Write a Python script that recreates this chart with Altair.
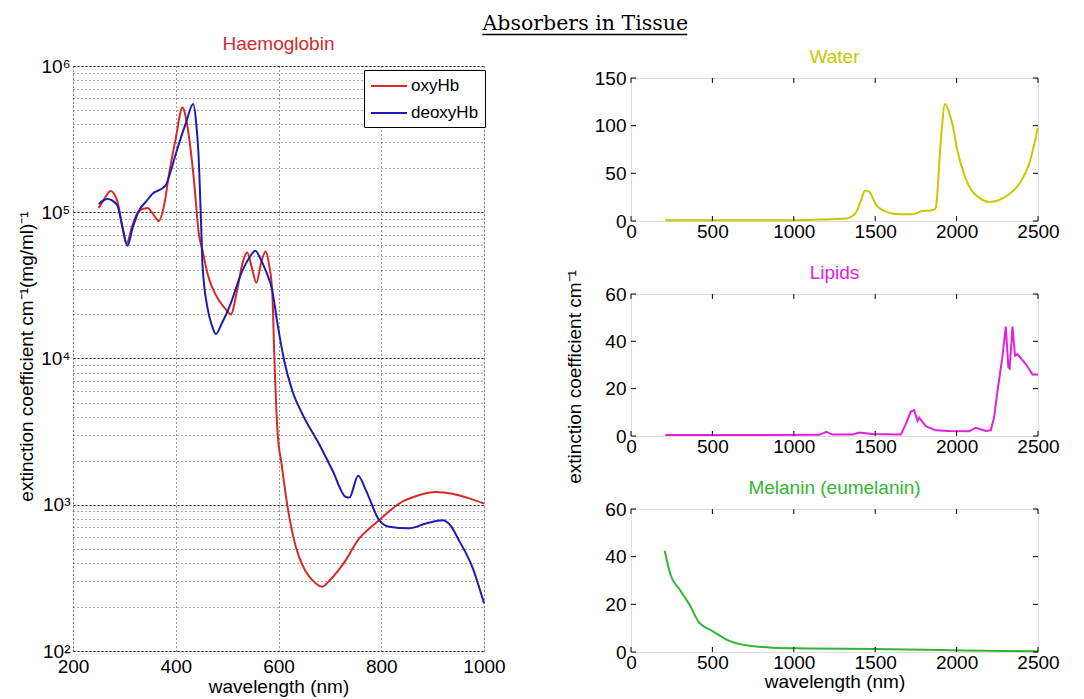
import altair as alt
import pandas as pd

FONT = "Liberation Sans"
SERIF = "DejaVu Serif"
RED = "#d62a2a"
BLUE = "#1c1cb4"
YEL = "#c8c800"
MAG = "#e022e0"
GRN = "#33b533"
FS = 19

main_title = "Absorbers in Tissue"
hb_title = "Haemoglobin"
hb_names = ["oxyHb", "deoxyHb"]
hb_ylabel = "extinction coefficient cm\u207b\u00b9(mg/ml)\u207b\u00b9"
x_title = "wavelength (nm)"
right_ylabel = "extinction coefficient cm\u207b\u00b9"

# Haemoglobin
oxy_wl = [250, 262, 273, 286, 296, 304, 315, 328, 345, 356, 367, 378, 387, 400, 413, 422,
          435, 445, 452, 462, 484, 496, 507, 520, 530, 539, 548, 557, 566, 575, 582, 588,
          592, 598, 606, 617, 628, 640, 653, 666, 685, 700, 715, 731, 757, 775, 796, 815,
          835, 873, 906, 938, 970, 1000]
oxy_val = [1.07e5, 1.25e5, 1.40e5, 1.20e5, 8.0e4, 6.1e4, 8.0e4, 1.02e5, 1.07e5, 9.7e4,
           8.7e4, 1.15e5, 1.83e5, 3.2e5, 5.2e5, 4.0e5, 1.72e5, 7.1e4, 5.5e4, 3.8e4, 2.5e4,
           2.2e4, 2.0e4, 3.0e4, 4.5e4, 5.3e4, 4.2e4, 3.3e4, 4.5e4, 5.4e4, 4.3e4, 2.8e4,
           1.0e4, 3.2e3, 1.9e3, 1.0e3, 620, 440, 350, 305, 275, 305, 350, 418, 588, 680,
           784, 900, 1020, 1160, 1220, 1190, 1110, 1020]
deoxy_wl = [250, 267, 286, 296, 306, 316, 328, 342, 354, 380, 390, 400, 419, 434, 440, 444,
            450, 452, 462, 470, 478, 490, 504, 530, 545, 555, 565, 575, 588, 598, 611, 627,
            646, 679, 705, 731, 738, 755, 770, 796, 815, 854, 887, 919, 935, 951, 977, 1000]
deoxy_val = [1.14e5, 1.23e5, 1.12e5, 8.0e4, 5.9e4, 7.8e4, 1.02e5, 1.18e5, 1.33e5, 1.52e5,
             1.9e5, 2.5e5, 4.0e5, 5.5e5, 4.0e5, 2.6e5, 7.1e4, 4.4e4, 2.2e4, 1.7e4, 1.47e4,
             1.75e4, 2.24e4, 4.0e4, 5.0e4, 5.46e4, 4.8e4, 4.0e4, 2.9e4, 1.73e4, 9.7e3, 6.0e3,
             4.2e3, 2.6e3, 1.72e3, 1.13e3, 1.12e3, 1.58e3, 1.26e3, 784, 708, 690, 745, 784,
             720, 573, 377, 212]

# Water
water_wl = [211, 600, 1000, 1156, 1320, 1381, 1412, 1438, 1463, 1504, 1565, 1647, 1729, 1790,
            1852, 1872, 1903, 1929, 1954, 1974, 2005, 2046, 2087, 2138, 2200, 2261, 2322,
            2384, 2445, 2500]
water_val = [0.8, 0.8, 0.9, 1.5, 2.5, 8.8, 21, 32, 30.5, 17.5, 9.8, 7, 7, 10.5, 11.2, 14, 84,
             122.7, 114, 101.6, 73.6, 49, 33.3, 24.5, 20, 22, 28, 38.6, 59.6, 98]
# Lipids
lip_wl = [211, 1156, 1201, 1238, 1360, 1401, 1483, 1657, 1688, 1719, 1739, 1760, 1770, 1811,
          1872, 1954, 2077, 2118, 2179, 2210, 2230, 2251, 2281, 2302, 2318, 2326, 2343, 2359,
          2373, 2425, 2466, 2500]
lip_val = [0.4, 0.5, 1.8, 0.6, 0.6, 1.5, 0.8, 0.6, 5, 10.3, 10.9, 6.4, 7.8, 4.2, 2.4, 2.1, 2.0,
           3.5, 2.1, 2.4, 7.8, 19, 33.2, 46.2, 29, 28.5, 46.2, 33.9, 34.6, 30.4, 26, 26]
# Melanin
mel_wl = [207, 245, 297, 358, 419, 501, 583, 706, 870, 1074, 1483, 1893, 2302, 2500]
mel_val = [42.5, 32, 26.4, 20, 12.3, 8.8, 5.3, 2.8, 1.8, 1.5, 1.26, 0.84, 0.42, 0.3]

hb_x_ticks = [200, 400, 600, 800, 1000]
hb_y_ticks = [m * 10 ** k for k in range(2, 6) for m in range(1, 10)] + [10 ** 6]
r_x_ticks = [0, 500, 1000, 1500, 2000, 2500]
water_y_ticks = [0, 50, 100, 150]
lip_y_ticks = [0, 20, 40, 60]
mel_y_ticks = [0, 20, 40, 60]

LW, LH = 411, 585
RW = 407

hb_df = pd.concat([
    pd.DataFrame({"wl": oxy_wl, "val": oxy_val, "species": hb_names[0]}),
    pd.DataFrame({"wl": deoxy_wl, "val": deoxy_val, "species": hb_names[1]}),
])

decade = "abs(log(datum.value)/LN10 - round(log(datum.value)/LN10)) < 0.001"
sup = "['\u2070','\u00b9','\u00b2','\u00b3','\u2074','\u2075','\u2076']"

axis_common = dict(labelFont=FONT, titleFont=FONT, labelFontSize=FS, titleFontSize=FS,
                   labelColor="black", titleColor="black", ticks=False, domain=False,
                   labelFlush=False, labelOverlap=False, titleFontWeight="normal")

hb_lines = alt.Chart(hb_df).mark_line(strokeWidth=2, interpolate="monotone").encode(
    x=alt.X("wl:Q", scale=alt.Scale(domain=[200, 1000], nice=False, zero=False),
            axis=alt.Axis(values=hb_x_ticks, title=x_title, grid=True, gridDash=[1, 3],
                          gridColor="#333", labelPadding=6, titlePadding=1, format="d",
                          **axis_common)),
    y=alt.Y("val:Q", scale=alt.Scale(type="log", domain=[100, 1e6], nice=False),
            axis=alt.Axis(values=hb_y_ticks, title=hb_ylabel, grid=True,
                          labelExpr=f"({decade}) ? '10' + {sup}[round(log(datum.value)/LN10)] : ''",
                          gridDash={"condition": {"test": decade, "value": [2, 2]}, "value": [1, 3]},
                          gridColor={"condition": {"test": decade, "value": "#000"}, "value": "#555"},
                          labelPadding=3, titleAngle=270, titleX=-47, titleY=290,
                          titleAlign="center", titleBaseline="middle", **axis_common)),
    color=alt.Color("species:N", scale=alt.Scale(domain=hb_names, range=[RED, BLUE]),
                    legend=alt.Legend(title=None, orient="none", legendX=291, legendY=4,
                                      fillColor="white", strokeColor="black", padding=6,
                                      symbolType="M-1,0L3,0", symbolSize=324,
                                      symbolStrokeWidth=2, labelFontSize=17, labelFont=FONT,
                                      labelColor="black", rowPadding=9, labelOffset=21)),
)

left = hb_lines.properties(
    width=LW, height=LH,
    title=alt.TitleParams(hb_title, color=RED, fontSize=FS, font=FONT, fontWeight="normal",
                          offset=3))


def panel(wl, val, color, name, ydom, yticks, h, xt=None, interp="linear"):
    df = pd.DataFrame({"wl": wl, "val": val})
    xs = alt.Scale(domain=[0, 2500], nice=False, zero=False)
    ys = alt.Scale(domain=ydom, nice=False, zero=False)
    xargs = dict(values=r_x_ticks, grid=False, labelPadding=1, titlePadding=0, format="d",
                 **axis_common)
    xargs["title"] = xt if xt else None
    yargs = dict(values=yticks, grid=False, labelPadding=5, title=None, **axis_common)
    line = alt.Chart(df).mark_line(color=color, strokeWidth=2, interpolate=interp).encode(
        x=alt.X("wl:Q", scale=xs, axis=alt.Axis(**xargs)),
        y=alt.Y("val:Q", scale=ys, axis=alt.Axis(**yargs)))
    xtd = pd.DataFrame({"wl": r_x_ticks})
    ytd = pd.DataFrame({"val": yticks})
    tb = alt.Chart(xtd).mark_rule(color="black").encode(
        x=alt.X("wl:Q", scale=xs), y=alt.value(h), y2=alt.value(h - 5))
    tt = alt.Chart(xtd).mark_rule(color="black").encode(
        x=alt.X("wl:Q", scale=xs), y=alt.value(0), y2=alt.value(5))
    tl = alt.Chart(ytd).mark_rule(color="black").encode(
        y=alt.Y("val:Q", scale=ys), x=alt.value(0), x2=alt.value(5))
    tr = alt.Chart(ytd).mark_rule(color="black").encode(
        y=alt.Y("val:Q", scale=ys), x=alt.value(RW - 5), x2=alt.value(RW))
    return alt.layer(line, tb, tt, tl, tr).properties(
        width=RW, height=h,
        title=alt.TitleParams(name, color=color, fontSize=FS, font=FONT,
                              fontWeight="normal", offset=2))


water = panel(water_wl, water_val, YEL, "Water", [0, 150], water_y_ticks, 143,
              interp="monotone")
lipids = panel(lip_wl, lip_val, MAG, "Lipids", [0, 60], lip_y_ticks, 142)
melanin = panel(mel_wl, mel_val, GRN, "Melanin (eumelanin)", [0, 60], mel_y_ticks, 143,
                xt=x_title, interp="monotone")

# spacer on top of the right column, carrying the figure title and the shared y title
title_df = pd.DataFrame({"t": [main_title], "yt": [right_ylabel]})
spacer_pt = alt.Chart(title_df).mark_point(opacity=0).encode(
    x=alt.value(0), y=alt.value(0))
main_text = alt.Chart(title_df).mark_text(font=SERIF, fontSize=20.5, baseline="alphabetic",
                                          align="center", color="black").encode(
    text="t:N", x=alt.value(-45.7), y=alt.value(-35.7))
underline = alt.Chart(title_df).mark_rule(color="black", strokeWidth=1.5).encode(
    x=alt.value(-148.7), x2=alt.value(56.3), y=alt.value(-31.4))
right_ytext = alt.Chart(title_df).mark_text(font=FONT, fontSize=FS, angle=270,
                                            baseline="middle", align="center",
                                            color="black").encode(
    text="yt:N", x=alt.value(-55.7), y=alt.value(311))
spacer = alt.layer(spacer_pt, main_text, underline, right_ytext).properties(
    width=RW, height=1, view=alt.ViewBackground(strokeOpacity=0))

right_inner = alt.vconcat(water, lipids, melanin, spacing=73, bounds="flush")
right = alt.vconcat(spacer, right_inner, spacing=11, bounds="flush")

chart = alt.hconcat(left, right, spacing=147, bounds="flush").properties(
    padding={"left": 16, "top": 14, "right": 5, "bottom": 0}
).configure_view(stroke="black", strokeWidth=1).configure(background="white")

chart.save("out.html", embed_options={"renderer": "svg", "actions": False})
